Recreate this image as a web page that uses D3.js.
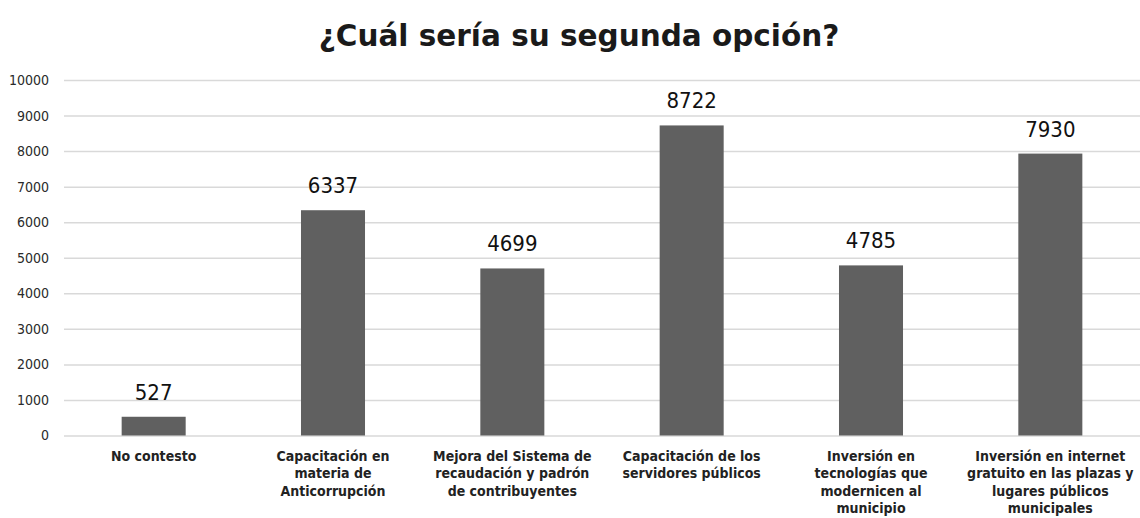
<!DOCTYPE html>
<html>
<head>
<meta charset="utf-8">
<script src="https://cdn.jsdelivr.net/npm/d3@7"></script>
<style>
  body { margin: 0; background: #fff; }
  svg { display: block; }
</style>
</head>
<body>
<div class="canvas"></div>
<script>
// chart data
const categories = ['No contesto', 'Capacitación anticorrupción', 'Mejora del sistema', 'Capacitación servidores', 'Inversión en tecnologías', 'Inversión en internet'];
const values = [527, 6337, 4699, 8722, 4785, 7930];
const catLabels = [
  ['No contesto'],
  ['Capacitación en', 'materia de', 'Anticorrupción'],
  ['Mejora del Sistema de', 'recaudación y padrón', 'de contribuyentes'],
  ['Capacitación de los', 'servidores públicos'],
  ['Inversión en', 'tecnologías que', 'modernicen al', 'municipio'],
  ['Inversión en internet', 'gratuito en las plazas y', 'lugares públicos', 'municipales']
];
const yTicks = [0, 1000, 2000, 3000, 4000, 5000, 6000, 7000, 8000, 9000, 10000];
const title = '¿Cuál sería su segunda opción?';

const width = 1140, height = 518;

const svg = d3.select('.canvas')
  .append('svg')
  .attr('width', width)
  .attr('height', height);

const x = d3.scaleBand()
  .domain(categories)
  .range([64, 1140])
  .paddingInner(0.643)
  .paddingOuter(0.3215);

const y = d3.scaleLinear()
  .domain([0, 10000])
  .range([435.5, 80]);

// title
svg.append('text')
  .attr('x', 579)
  .attr('y', 46)
  .attr('text-anchor', 'middle')
  .attr('font-family', 'DejaVu Sans')
  .attr('font-weight', 'bold')
  .attr('font-size', 29.5)
  .attr('fill', '#1a1a1a')
  .text(title);

// gridlines + tick labels via axis
const yAxis = svg.append('g')
  .attr('transform', 'translate(64,0)')
  .call(d3.axisLeft(y).tickValues(yTicks).tickSize(-(1140 - 64)).tickPadding(15).tickFormat(d3.format('d')));

yAxis.select('.domain').remove();
yAxis.selectAll('.tick line')
  .attr('stroke', '#d9d9d9')
  .attr('stroke-width', 1.5);
yAxis.selectAll('.tick text')
  .attr('font-family', 'DejaVu Sans Condensed')
  .attr('font-size', 14)
  .attr('fill', '#2a2a2a');

// bars
svg.selectAll('rect.bar')
  .data(values)
  .enter()
  .append('rect')
  .attr('class', 'bar')
  .attr('x', (d, i) => x(categories[i]))
  .attr('y', d => y(d))
  .attr('width', x.bandwidth())
  .attr('height', d => y(0) - y(d))
  .attr('fill', '#606060');

// value labels
svg.selectAll('text.val')
  .data(values)
  .enter()
  .append('text')
  .attr('class', 'val')
  .attr('x', (d, i) => x(categories[i]) + x.bandwidth() / 2)
  .attr('y', d => y(d) - 17)
  .attr('text-anchor', 'middle')
  .attr('font-family', 'DejaVu Sans Condensed')
  .attr('font-size', 22)
  .attr('fill', '#111')
  .text(d => d);

// category labels
const cats = svg.selectAll('text.cat')
  .data(catLabels)
  .enter()
  .append('text')
  .attr('class', 'cat')
  .attr('text-anchor', 'middle')
  .attr('font-family', 'DejaVu Sans Condensed')
  .attr('font-weight', 'bold')
  .attr('font-size', 14)
  .attr('fill', '#222');

cats.each(function (lines, i) {
  const cx = x(categories[i]) + x.bandwidth() / 2;
  d3.select(this).selectAll('tspan')
    .data(lines)
    .enter()
    .append('tspan')
    .attr('x', cx)
    .attr('y', (l, j) => 461 + j * 17.3)
    .text(l => l);
});
</script>
</body>
</html>
